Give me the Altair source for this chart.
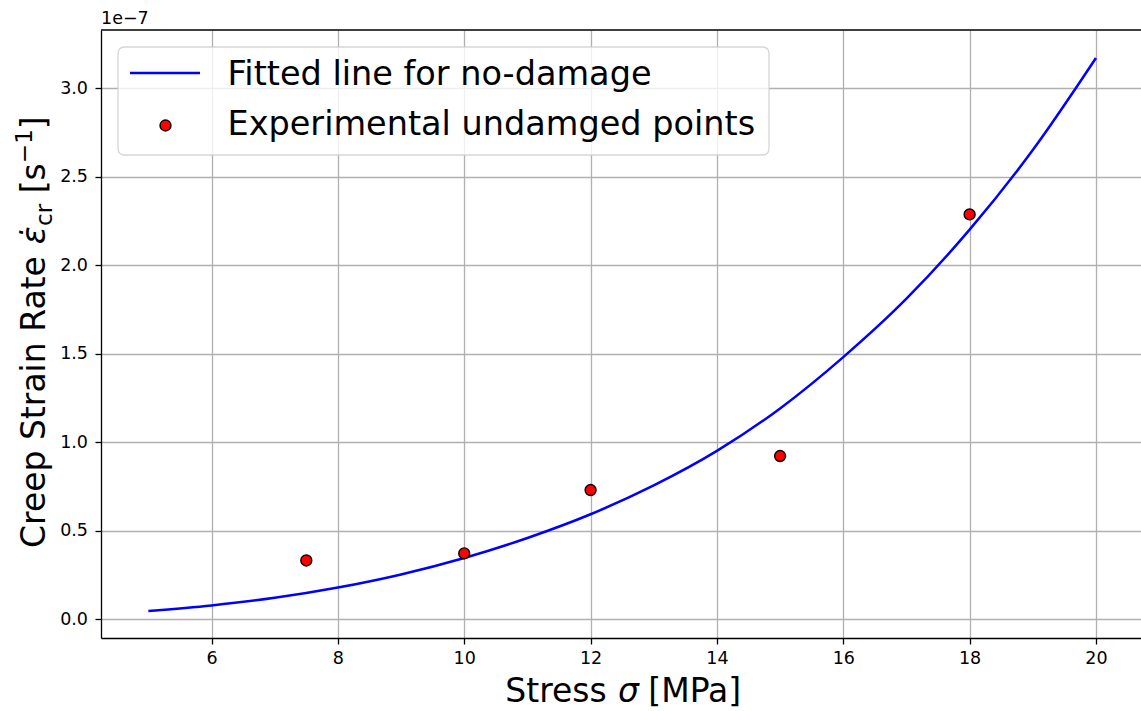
import altair as alt
import pandas as pd

# Fitted creep law (no damage): stress [MPa] vs. creep strain rate [1e-7 1/s]
sigma_fit = [5, 6, 7, 8, 9, 10, 11, 12, 13, 14, 15, 16, 17, 18, 19, 20]
rate_fit = [0.045, 0.077, 0.120, 0.178, 0.252, 0.345, 0.458, 0.592, 0.755,
            0.950, 1.19, 1.48, 1.81, 2.20, 2.65, 3.17]

# Measured steady-state creep rates of undamaged specimens
sigma_exp = [7.5, 10, 12, 15, 18]
rate_exp = [0.331, 0.371, 0.729, 0.921, 2.286]

x_ticks = [6, 8, 10, 12, 14, 16, 18, 20]
y_ticks = [0.0, 0.5, 1.0, 1.5, 2.0, 2.5, 3.0]

legend_labels = ["Fitted line for no-damage", "Experimental undamged points"]

FONT = "DejaVu Sans"
W, H = 1040, 608
BIG = 33
LEG = 33.5
SMALL = 23.1
TICK = 17.5

fit_df = pd.DataFrame({"sigma": sigma_fit, "rate": rate_fit})
exp_df = pd.DataFrame({"sigma": sigma_exp, "rate": rate_exp})

x_scale = alt.Scale(domain=[4.25, 20.713], nice=False, zero=False)
y_scale = alt.Scale(domain=[-0.107, 3.328], nice=False, zero=False)

x_axis = alt.Axis(values=x_ticks, format="d", title=None, labelFlush=False,
                  labelPadding=5, labelOverlap=False)
y_axis = alt.Axis(values=y_ticks, format=".1f", title=None, labelFlush=False,
                  labelPadding=7.5, labelOverlap=False)

line = alt.Chart(fit_df).mark_line(
    color="#0000ff", strokeWidth=2.5, interpolate="monotone"
).encode(
    x=alt.X("sigma:Q", scale=x_scale, axis=x_axis),
    y=alt.Y("rate:Q", scale=y_scale, axis=y_axis),
)

points = alt.Chart(exp_df).mark_point(
    filled=True, fill="#ff0000", stroke="black", strokeWidth=1.4,
    size=120, opacity=1, shape="circle"
).encode(
    x=alt.X("sigma:Q", scale=x_scale),
    y=alt.Y("rate:Q", scale=y_scale),
)

one = alt.Data(values=[{}])


def label(text, x, y, size=BIG, angle=0, align="left", baseline="alphabetic",
          style="normal"):
    return alt.Chart(one).mark_text(
        text=text, font=FONT, fontSize=size, angle=angle, align=align,
        baseline=baseline, fontStyle=style, color="black"
    ).encode(x=alt.value(x), y=alt.value(y))


# top frame line
top_spine = alt.Chart(one).mark_rule(color="black", strokeWidth=1.3).encode(
    x=alt.value(0), x2=alt.value(W), y=alt.value(0)
)

# legend box
legend_box = alt.Chart(one).mark_rect(
    fill="white", fillOpacity=0.8, stroke="#cccccc", strokeOpacity=0.8,
    strokeWidth=1.3, cornerRadius=6
).encode(x=alt.value(17), x2=alt.value(668), y=alt.value(17), y2=alt.value(125))

legend_line = alt.Chart(one).mark_rule(color="#0000ff", strokeWidth=2.5).encode(
    x=alt.value(29), x2=alt.value(99), y=alt.value(43)
)
legend_point = alt.Chart(one).mark_point(
    filled=True, fill="#ff0000", stroke="black", strokeWidth=1.4, size=120,
    opacity=1, shape="circle"
).encode(x=alt.value(64.5), y=alt.value(95.5))

legend_text = [
    label(legend_labels[0], 126.5, 55, size=LEG),
    label(legend_labels[1], 126.5, 105, size=LEG),
]

# scale exponent above the y axis
offset_text = label("1e\u22127", 0, -6, size=TICK)

# x axis title: Stress σ [MPa]
x_title = [
    label("Stress", 404.3, 672),
    label("\u03c3", 516.9, 672, style="italic"),
    label("[MPa]", 547.3, 672),
]

# y axis title: Creep Strain Rate ε̇_cr [s^-1], written bottom-to-top
bx = -56
y_title = [
    label("Creep Strain Rate", bx, 518, angle=270),
    label("\u03b5\u0307", bx, 214.2, angle=270, style="italic"),
    label("cr", bx + 7, 196.0, size=SMALL, angle=270),
    label("[s", bx, 163.3, angle=270),
    label("\u22121", bx - 13, 133.2, size=SMALL, angle=270),
    label("]", bx, 99.2, angle=270),
]

chart = alt.layer(
    line, points, top_spine, legend_box, legend_line, legend_point,
    *legend_text, offset_text, *x_title, *y_title
).properties(
    width=W, height=H,
    autosize=alt.AutoSizeParams(type="none"),
    padding={"left": 101, "top": 30, "right": 0, "bottom": 73},
    background="white",
).configure_view(
    stroke=None
).configure_axis(
    labelFont=FONT, labelFontSize=TICK, labelColor="black",
    tickColor="black", tickSize=6, tickWidth=1.3,
    domainColor="black", domainWidth=1.3,
    grid=True, gridColor="#b0b0b0", gridWidth=1.3,
)

chart.save("out.html", embed_options={"renderer": "svg", "actions": False})
